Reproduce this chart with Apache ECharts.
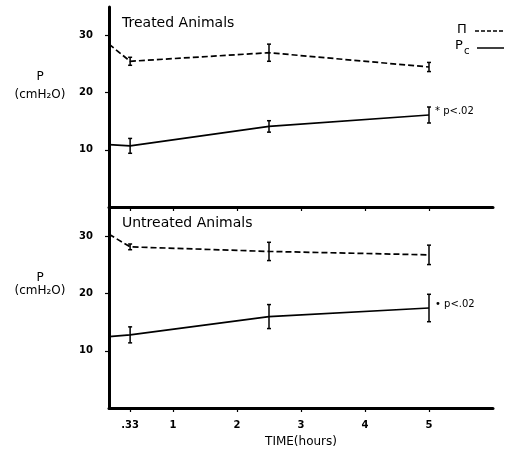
<!DOCTYPE html>
<html>
<head>
<meta charset="utf-8">
<script src="https://cdn.jsdelivr.net/npm/echarts@6/dist/echarts.min.js"></script>
<style>
  html, body { margin: 0; padding: 0; background: #fff; }
  #chart { width: 511px; height: 457px; }
</style>
</head>
<body>
<div id="chart"></div>
<script>
  // time points (hours) and tick positions
  var hours = [0, 0.33, 2.5, 5];
  var tickHours = [0.33, 1, 2, 3, 4, 5];
  var yTicks = [10, 20, 30];

  // Treated animals
  var treatedPi = [28.5, 25.5, 27.0, 24.5];
  var treatedPiErr = [0, 0.7, 1.5, 0.8];
  var treatedPc = [10.9, 10.7, 14.1, 16.1];
  var treatedPcErr = [0, 1.3, 1.0, 1.4];

  // Untreated animals
  var untreatedPi = [30.4, 28.2, 27.4, 26.8];
  var untreatedPiErr = [0, 0.5, 1.6, 1.7];
  var untreatedPc = [12.5, 12.8, 16.0, 17.5];
  var untreatedPcErr = [0, 1.4, 2.1, 2.4];

  var FONT = 'DejaVu Sans';
  var chart = echarts.init(document.getElementById('chart'));

  function pairs(vals) {
    return hours.map(function(h, i) { return [h, vals[i]]; });
  }

  function xAxis(idx, withLabels) {
    return {
      type: 'value', gridIndex: idx, min: 0, max: 6,
      axisLine: { lineStyle: { color: '#000', width: 3 } },
      axisTick: { show: true, customValues: tickHours, length: 4, lineStyle: { color: '#000', width: 1.2 } },
      axisLabel: {
        show: withLabels, customValues: tickHours, margin: 12,
        color: '#000', fontFamily: FONT, fontSize: 10, fontWeight: 'bold',
        formatter: function(v) { return v === 0.33 ? '.33' : String(v); }
      },
      splitLine: { show: false },
      name: withLabels ? 'TIME(hours)' : '',
      nameLocation: 'middle', nameGap: 28,
      nameTextStyle: { color: '#000', fontFamily: FONT, fontSize: 12 }
    };
  }

  function yAxis(idx) {
    return {
      type: 'value', gridIndex: idx, min: 0, max: 35,
      axisLine: { show: true, lineStyle: { color: '#000', width: 3 } },
      axisTick: { show: true, customValues: yTicks, length: 4, lineStyle: { color: '#000', width: 1.2 } },
      axisLabel: { customValues: yTicks, margin: 16, color: '#000', fontFamily: FONT, fontSize: 10, fontWeight: 'bold' },
      splitLine: { show: false }
    };
  }

  function lineSeries(idx, vals, dashed, note) {
    var s = {
      type: 'line', xAxisIndex: idx, yAxisIndex: idx,
      data: pairs(vals), symbol: 'none', silent: true, animation: false,
      lineStyle: { color: '#000', width: 1.7, type: dashed ? [6, 3] : 'solid' }
    };
    if (note) {
      s.endLabel = {
        show: true, formatter: note, distance: 6, offset: [0, -4],
        color: '#000', fontFamily: FONT, fontSize: 10
      };
    }
    return s;
  }

  function errSeries(idx, vals, errs) {
    return {
      type: 'custom', xAxisIndex: idx, yAxisIndex: idx, silent: true, animation: false,
      data: hours.map(function(h, i) { return [h, vals[i], errs[i]]; }),
      renderItem: function(params, api) {
        var e = api.value(2);
        if (!e) return;
        var x = api.value(0), y = api.value(1);
        var lo = api.coord([x, y - e]), hi = api.coord([x, y + e]);
        var st = { stroke: '#000', lineWidth: 1.5 };
        return {
          type: 'group',
          children: [
            { type: 'line', shape: { x1: lo[0], y1: lo[1], x2: hi[0], y2: hi[1] }, style: st },
            { type: 'line', shape: { x1: lo[0] - 2, y1: lo[1], x2: lo[0] + 2, y2: lo[1] }, style: st },
            { type: 'line', shape: { x1: hi[0] - 2, y1: hi[1], x2: hi[0] + 2, y2: hi[1] }, style: st }
          ]
        };
      }
    };
  }

  function txt(x, y, text, size, align) {
    return {
      type: 'text', x: x, y: y, silent: true,
      style: {
        text: text, fill: '#000', font: size + 'px "' + FONT + '"',
        textAlign: align || 'left', textVerticalAlign: 'middle'
      }
    };
  }

  var option = {
    animation: false,
    backgroundColor: '#fff',
    grid: [
      { left: 109, right: 18, top: 7, height: 200 },
      { left: 109, right: 18, top: 208, height: 200 }
    ],
    xAxis: [xAxis(0, false), xAxis(1, true)],
    yAxis: [yAxis(0), yAxis(1)],
    series: [
      lineSeries(0, treatedPi, true),
      errSeries(0, treatedPi, treatedPiErr),
      lineSeries(0, treatedPc, false, '* p<.02'),
      errSeries(0, treatedPc, treatedPcErr),
      lineSeries(1, untreatedPi, true),
      errSeries(1, untreatedPi, untreatedPiErr),
      lineSeries(1, untreatedPc, false, '• p<.02'),
      errSeries(1, untreatedPc, untreatedPcErr)
    ],
    graphic: [
      txt(122, 23, 'Treated Animals', 14),
      txt(122, 223, 'Untreated Animals', 14),
      txt(40, 77, 'P', 12, 'center'),
      txt(40, 95, '(cmH₂O)', 12, 'center'),
      txt(40, 278, 'P', 12, 'center'),
      txt(40, 291, '(cmH₂O)', 12, 'center'),
      // legend
      txt(457, 30, 'Π', 13),
      { type: 'line', silent: true, shape: { x1: 475, y1: 31, x2: 504, y2: 31 },
        style: { stroke: '#000', lineWidth: 1.5, lineDash: [4, 2] } },
      txt(455, 46, 'P', 13),
      txt(464, 51, 'c', 10),
      { type: 'line', silent: true, shape: { x1: 477, y1: 48, x2: 504, y2: 48 },
        style: { stroke: '#000', lineWidth: 1.5 } }
    ]
  };

  chart.setOption(option);
</script>
</body>
</html>
